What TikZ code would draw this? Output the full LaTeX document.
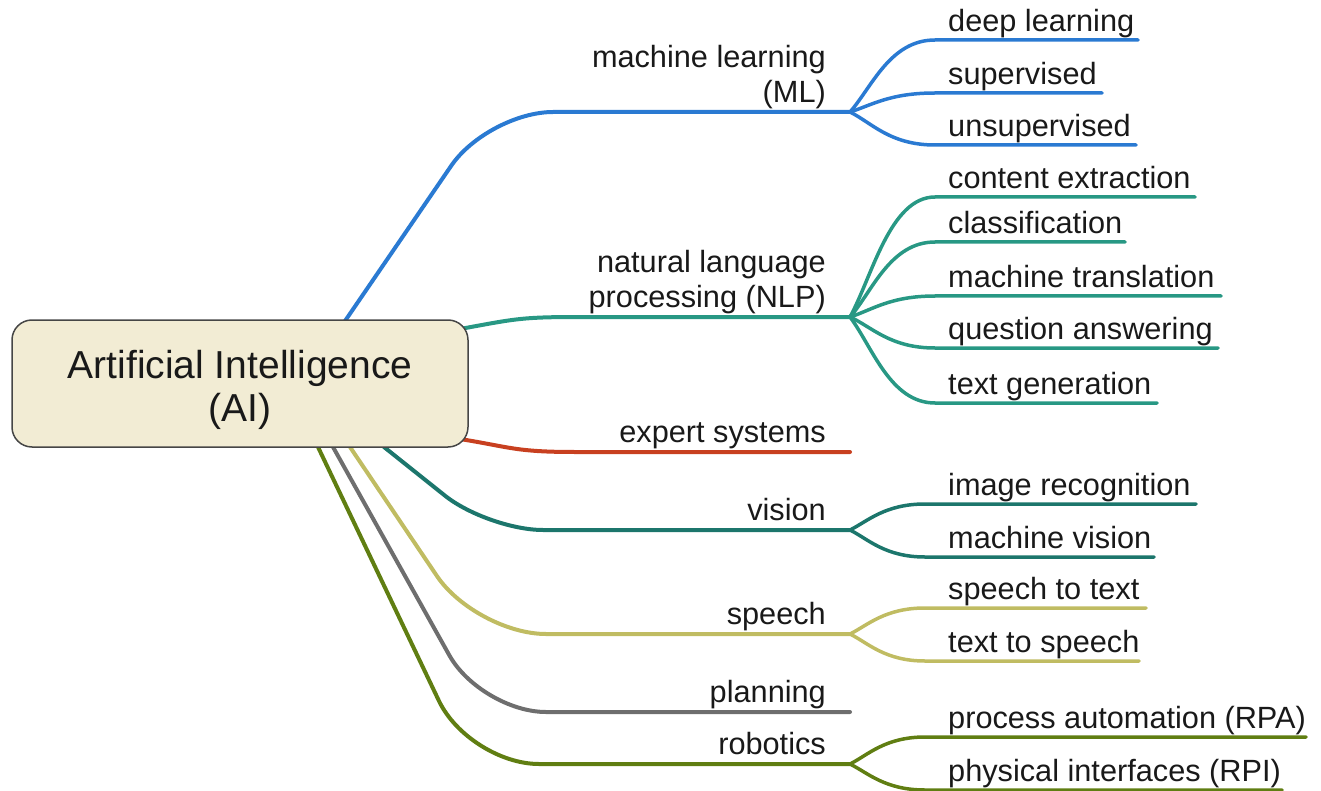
\documentclass[tikz,border=0pt]{standalone}
\usepackage{fontspec}
\setmainfont{Liberation Sans}
\pgfdeclarelayer{bg}
\pgfsetlayers{bg,main}
\definecolor{cml}{RGB}{42,122,210}
\definecolor{cnlp}{RGB}{40,152,132}
\definecolor{cex}{RGB}{200,64,32}
\definecolor{cvi}{RGB}{28,118,108}
\definecolor{csp}{RGB}{192,188,98}
\definecolor{cpl}{RGB}{110,110,110}
\definecolor{cro}{RGB}{96,126,18}
\definecolor{aifill}{RGB}{242,236,212}
\definecolor{aiedge}{RGB}{70,70,70}
\definecolor{txt}{RGB}{25,25,25}
\begin{document}
\begin{tikzpicture}[x=1pt,y=-1pt,
  br/.style={line width=4pt, line cap=round},
  sb/.style={line width=3.5pt, line cap=round},
  lab/.style={font=\fontsize{30.7}{35}\selectfont, inner sep=0pt, text depth=0pt, text=txt},
  mainlab/.style={lab, anchor=south east, align=right},
  sublab/.style={lab, anchor=south west},
  rootbox/.style={draw=aiedge, line width=1.5pt, fill=aifill, rounded corners=20pt,
    minimum width=456pt, minimum height=127pt, inner sep=0pt, align=center,
    font=\fontsize{39}{43}\selectfont, text=txt}]
\useasboundingbox (0,0) rectangle (1321,791);

% root
\node[rootbox] (ai) at (240,383.5) {\rule{0pt}{41pt}Artificial Intelligence\\(AI)};

% main labels
\node[mainlab] (ml) at (826,103) {machine learning\\(ML)};
\node[mainlab] (nlp) at (826,308) {natural language\\processing (NLP)};
\node[mainlab] (ex) at (826,443) {expert systems};
\node[mainlab] (vi) at (826,521) {vision};
\node[mainlab] (sp) at (826,625) {speech};
\node[mainlab] (pl) at (826,703) {planning};
\node[mainlab] (ro) at (826,755) {robotics};

% sub labels
\node[sublab] (dl) at (948,32) {deep learning};
\node[sublab] (su) at (948,85) {supervised};
\node[sublab] (un) at (948,137) {unsupervised};
\node[sublab] (ce) at (948,189) {content extraction};
\node[sublab] (cl) at (948,234) {classification};
\node[sublab] (mt) at (948,288) {machine translation};
\node[sublab] (qa) at (948,340) {question answering};
\node[sublab] (tg) at (948,395) {text generation};
\node[sublab] (ir) at (948,496) {image recognition};
\node[sublab] (mv) at (948,549) {machine vision};
\node[sublab] (st) at (948,600) {speech to text};
\node[sublab] (ts) at (948,653) {text to speech};
\node[sublab] (pa) at (948,729) {process automation (RPA)};
\node[sublab] (pi) at (948,782) {physical interfaces (RPI)};

% coordinates of main branches
\coordinate (s-ml) at (345,321);  \coordinate (k-ml) at (488,112);  \coordinate (f-ml) at (850,112);
\coordinate (s-nlp) at (460,329); \coordinate (c-nlp) at (580,317); \coordinate (f-nlp) at (850,317);
\coordinate (s-ex) at (460,439);  \coordinate (c-ex) at (575,452);  \coordinate (e-ex) at (850,452);
\coordinate (s-vi) at (384,447);  \coordinate (k-vi) at (488,530);  \coordinate (f-vi) at (850,530);
\coordinate (s-sp) at (350,447);  \coordinate (k-sp) at (476,634);  \coordinate (f-sp) at (850,634);
\coordinate (s-pl) at (333,447);  \coordinate (k-pl) at (481,712);  \coordinate (e-pl) at (850,712);
\coordinate (s-ro) at (318,447);  \coordinate (k-ro) at (469,764);  \coordinate (f-ro) at (850,764);

% coordinates of sub branches
\coordinate (dl-a) at (935,40);  \coordinate (dl-b) at (1138,40);
\coordinate (su-a) at (935,93);  \coordinate (su-b) at (1102,93);
\coordinate (un-a) at (935,145); \coordinate (un-b) at (1136,145);
\coordinate (ce-a) at (935,197); \coordinate (ce-b) at (1195,197);
\coordinate (cl-a) at (935,242); \coordinate (cl-b) at (1125,242);
\coordinate (mt-a) at (935,296); \coordinate (mt-b) at (1221,296);
\coordinate (qa-a) at (935,348); \coordinate (qa-b) at (1218,348);
\coordinate (tg-a) at (935,403); \coordinate (tg-b) at (1157,403);
\coordinate (ir-a) at (925,504); \coordinate (ir-b) at (1196,504);
\coordinate (mv-a) at (925,557); \coordinate (mv-b) at (1154,557);
\coordinate (st-a) at (925,608); \coordinate (st-b) at (1146,608);
\coordinate (ts-a) at (925,661); \coordinate (ts-b) at (1139,661);
\coordinate (pa-a) at (925,737); \coordinate (pa-b) at (1306,737);
\coordinate (pi-a) at (925,790); \coordinate (pi-b) at (1282,790);

\begin{pgfonlayer}{bg}
% main branches
\draw[br,cml,rounded corners=65pt] (s-ml) -- (k-ml) -- (f-ml);
\draw[br,cnlp] (s-nlp) .. controls (515,319) and (520,317) .. (c-nlp) -- (f-nlp);
\draw[br,cex] (s-ex) .. controls (510,447) and (515,452) .. (c-ex) -- (e-ex);
\draw[br,cvi,rounded corners=55pt] (s-vi) -- (k-vi) -- (f-vi);
\draw[br,csp,rounded corners=70pt] (s-sp) -- (k-sp) -- (f-sp);
\draw[br,cpl,rounded corners=65pt] (s-pl) -- (k-pl) -- (e-pl);
\draw[br,cro,rounded corners=70pt] (s-ro) -- (k-ro) -- (f-ro);

% sub branches
\draw[sb,cml] (f-ml) .. controls +(22,-25) and +(-45,0) .. (dl-a) -- (dl-b);
\draw[sb,cml] (f-ml) .. controls +(22,-7) and +(-45,0) .. (su-a) -- (su-b);
\draw[sb,cml] (f-ml) .. controls +(22,11) and +(-45,0) .. (un-a) -- (un-b);
\draw[sb,cnlp] (f-nlp) .. controls +(22,-40) and +(-45,0) .. (ce-a) -- (ce-b);
\draw[sb,cnlp] (f-nlp) .. controls +(22,-25) and +(-45,0) .. (cl-a) -- (cl-b);
\draw[sb,cnlp] (f-nlp) .. controls +(22,-7) and +(-45,0) .. (mt-a) -- (mt-b);
\draw[sb,cnlp] (f-nlp) .. controls +(22,10) and +(-45,0) .. (qa-a) -- (qa-b);
\draw[sb,cnlp] (f-nlp) .. controls +(22,29) and +(-45,0) .. (tg-a) -- (tg-b);
\draw[sb,cvi] (f-vi) .. controls +(18,-9) and +(-40,0) .. (ir-a) -- (ir-b);
\draw[sb,cvi] (f-vi) .. controls +(18,9) and +(-40,0) .. (mv-a) -- (mv-b);
\draw[sb,csp] (f-sp) .. controls +(18,-9) and +(-40,0) .. (st-a) -- (st-b);
\draw[sb,csp] (f-sp) .. controls +(18,9) and +(-40,0) .. (ts-a) -- (ts-b);
\draw[sb,cro] (f-ro) .. controls +(18,-9) and +(-40,0) .. (pa-a) -- (pa-b);
\draw[sb,cro] (f-ro) .. controls +(18,9) and +(-40,0) .. (pi-a) -- (pi-b);
\end{pgfonlayer}
\end{tikzpicture}
\end{document}
